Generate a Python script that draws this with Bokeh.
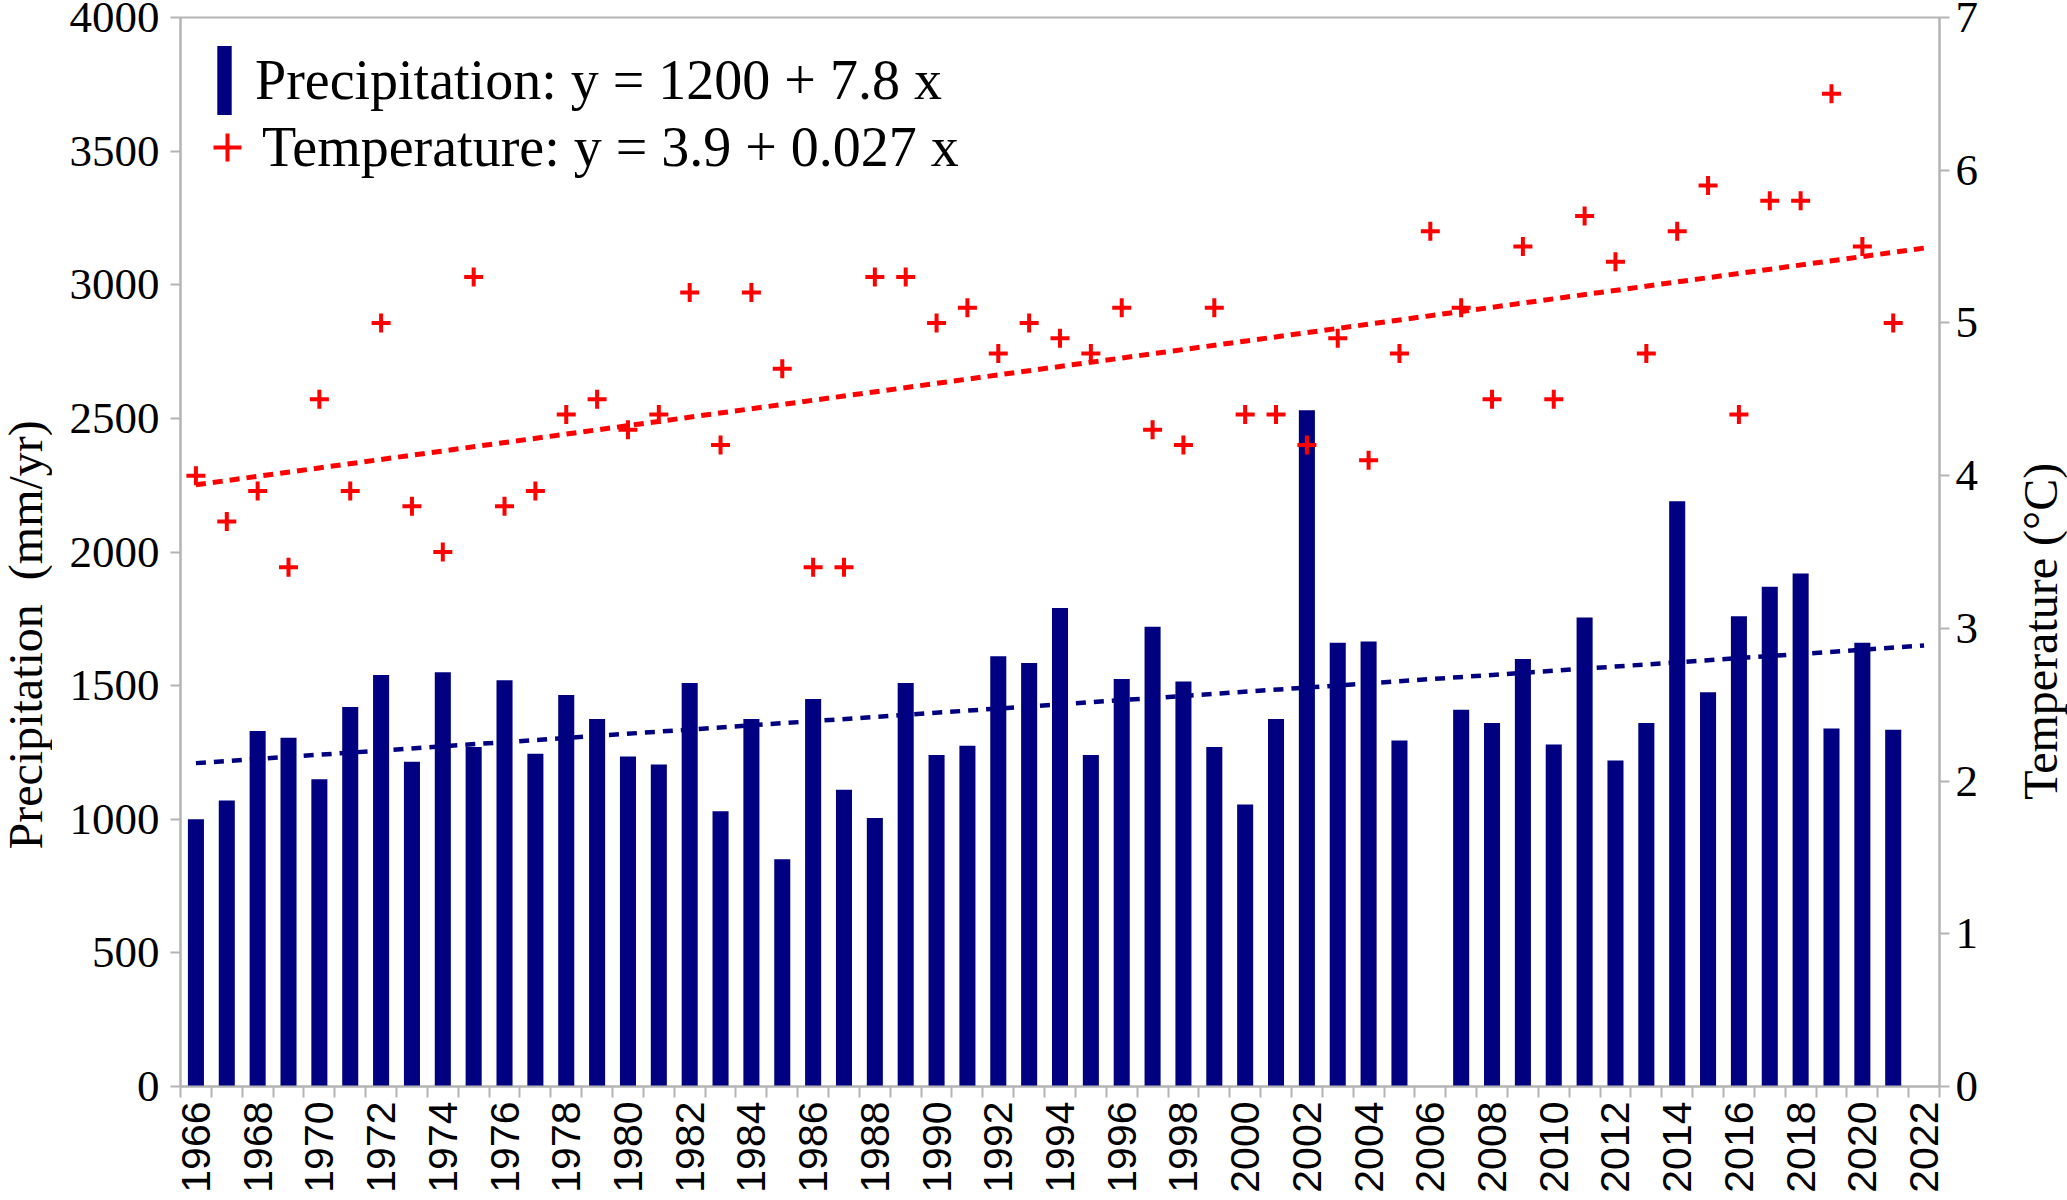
import math

from bokeh.core.properties import value
from bokeh.embed import file_html
from bokeh.layouts import row
from bokeh.models import (ColumnDataSource, FixedTicker, Legend, LegendItem,
                          LinearAxis, Range1d, SingleIntervalTicker)
from bokeh.plotting import figure
from bokeh.resources import INLINE

# --- data --------------------------------------------------------------------
years = list(range(1966, 2022))
precipitation = [
    1000, 1070, 1330, 1305, 1150, 1420, 1540, 1215, 1550, 1270,   # 1966-1975
    1520, 1245, 1465, 1375, 1235, 1205, 1510, 1030, 1375, 850,    # 1976-1985
    1450, 1110, 1005, 1510, 1240, 1275, 1610, 1585, 1790, 1240,   # 1986-1995
    1525, 1720, 1515, 1270, 1055, 1375, 2530, 1660, 1665, 1295,   # 1996-2005
    None, 1410, 1360, 1600, 1280, 1755, 1220, 1360, 2190, 1475,   # 2006-2015
    1760, 1870, 1920, 1340, 1660, 1335,                           # 2016-2021
]
temperature = [
    4.0, 3.7, 3.9, 3.4, 4.5, 3.9, 5.0, 3.8, 3.5, 5.3,
    3.8, 3.9, 4.4, 4.5, 4.3, 4.4, 5.2, 4.2, 5.2, 4.7,
    3.4, 3.4, 5.3, 5.3, 5.0, 5.1, 4.8, 5.0, 4.9, 4.8,
    5.1, 4.3, 4.2, 5.1, 4.4, 4.4, 4.2, 4.9, 4.1, 4.8,
    5.6, 5.1, 4.5, 5.5, 4.5, 5.7, 5.4, 4.8, 5.6, 5.9,
    4.4, 5.8, 5.8, 6.5, 5.5, 5.0,
]
tick_years = list(range(1966, 2023, 2))
all_years = list(range(1966, 2023))

# trend lines, end values
trend_years = [1966, 2022]
precip_trend = [1210, 1650]
temp_trend = [3.94, 5.49]

NAVY = "#000080"
RED = "#ff0000"
GREY = "#b4b4b4"
SERIF = "Liberation Serif"
SANS = "Liberation Sans"

H = 1200
LEFT_W, MAIN_W, RIGHT_W = 52, 1948, 67

bar_src = ColumnDataSource(dict(
    year=[y for y, v in zip(years, precipitation) if v is not None],
    precip=[v for v in precipitation if v is not None],
))
temp_src = ColumnDataSource(dict(year=years, temp=temperature))

p = figure(
    width=MAIN_W, height=H,
    x_range=Range1d(1965.5, 2022.5), y_range=Range1d(0, 4000),
    output_backend="svg", toolbar_location=None,
    min_border_left=128, min_border_right=61,
    min_border_top=17, min_border_bottom=114,
)
p.extra_y_ranges = {"temp": Range1d(0, 7)}
p.grid.visible = False
p.outline_line_color = GREY
p.outline_line_width = 2
p.background_fill_color = "white"
p.border_fill_color = "white"

# bars
bars = p.vbar(x="year", top="precip", width=0.52, source=bar_src,
              fill_color=NAVY, line_color=None)

# trend lines
p.line(trend_years, precip_trend, line_color=NAVY, line_width=4.5, line_dash="10 8")
p.line(trend_years, temp_trend, line_color=RED, line_width=5, line_dash="10 7",
       y_range_name="temp")

# temperature markers
marks = p.scatter(x="year", y="temp", source=temp_src, marker="cross", size=19,
                  line_color=RED, line_width=4, y_range_name="temp")


def style_axis(ax, font, size, standoff, tick_out):
    ax.major_label_text_font = font
    ax.major_label_text_font_size = size
    ax.major_label_text_color = "black"
    ax.major_label_standoff = standoff
    ax.major_tick_out = tick_out
    ax.major_tick_in = 0
    ax.minor_tick_out = 0
    ax.minor_tick_in = 0
    ax.major_tick_line_color = GREY
    ax.major_tick_line_width = 2
    ax.axis_line_color = GREY
    ax.axis_line_width = 2


# x axis: labels on even years, ticks between the years
xa = p.xaxis[0]
xa.ticker = FixedTicker(ticks=tick_years, minor_ticks=[y - 0.5 for y in all_years + [2023]])
xa.major_label_overrides = {y: str(y) for y in tick_years}
xa.major_label_orientation = math.pi / 2
style_axis(xa, SANS, "41px", 4, 0)
xa.minor_tick_out = 11
xa.minor_tick_line_color = GREY
xa.minor_tick_line_width = 2

ya = p.yaxis[0]
ya.ticker = SingleIntervalTicker(interval=500, num_minor_ticks=0)
style_axis(ya, SERIF, "45px", 11, 10)

yr = LinearAxis(y_range_name="temp",
                ticker=SingleIntervalTicker(interval=1, num_minor_ticks=0))
style_axis(yr, SERIF, "45px", 6, 10)
p.add_layout(yr, "right")

# legends
leg_precip = Legend(
    items=[LegendItem(label=value("Precipitation: y = 1200 + 7.8 x"), renderers=[bars])],
    location=(35, 963), glyph_width=18, glyph_height=86, label_standoff=22,
    padding=0, margin=0, spacing=0,
    border_line_alpha=0, background_fill_alpha=0,
    label_text_font=SERIF, label_text_font_size="56px", label_text_color="black",
)
leg_temp = Legend(
    items=[LegendItem(label=value("Temperature: y = 3.9 + 0.027 x"), renderers=[marks])],
    location=(12, 904), glyph_width=70, glyph_height=70, label_standoff=-4,
    padding=0, margin=0, spacing=0,
    border_line_alpha=0, background_fill_alpha=0,
    label_text_font=SERIF, label_text_font_size="56px", label_text_color="black",
)
p.add_layout(leg_precip)
p.add_layout(leg_temp)


# axis titles live in two narrow side panels
def title_panel(width, x, y, text):
    f = figure(width=width, height=H, x_range=Range1d(0, width), y_range=Range1d(0, H),
               output_backend="svg", toolbar_location=None,
               x_axis_type=None, y_axis_type=None,
               min_border=0, min_border_left=0, min_border_right=0,
               min_border_top=0, min_border_bottom=0)
    f.grid.visible = False
    f.outline_line_color = None
    f.background_fill_color = "white"
    f.border_fill_color = "white"
    f.text(x=[x], y=[y], text=[text], angle=math.pi / 2,
           text_align="center", text_baseline="middle",
           text_font=value(SERIF), text_font_size=value("48px"), text_color="black")
    return f


left = title_panel(LEFT_W, 25, 507, "Precipitation\u00a0 (mm/yr)")
right = title_panel(RIGHT_W, 40, 511, "Temperature (\u00b0C)")

layout = row(left, p, right)

open("out.html", "w").write(file_html(layout, INLINE))
